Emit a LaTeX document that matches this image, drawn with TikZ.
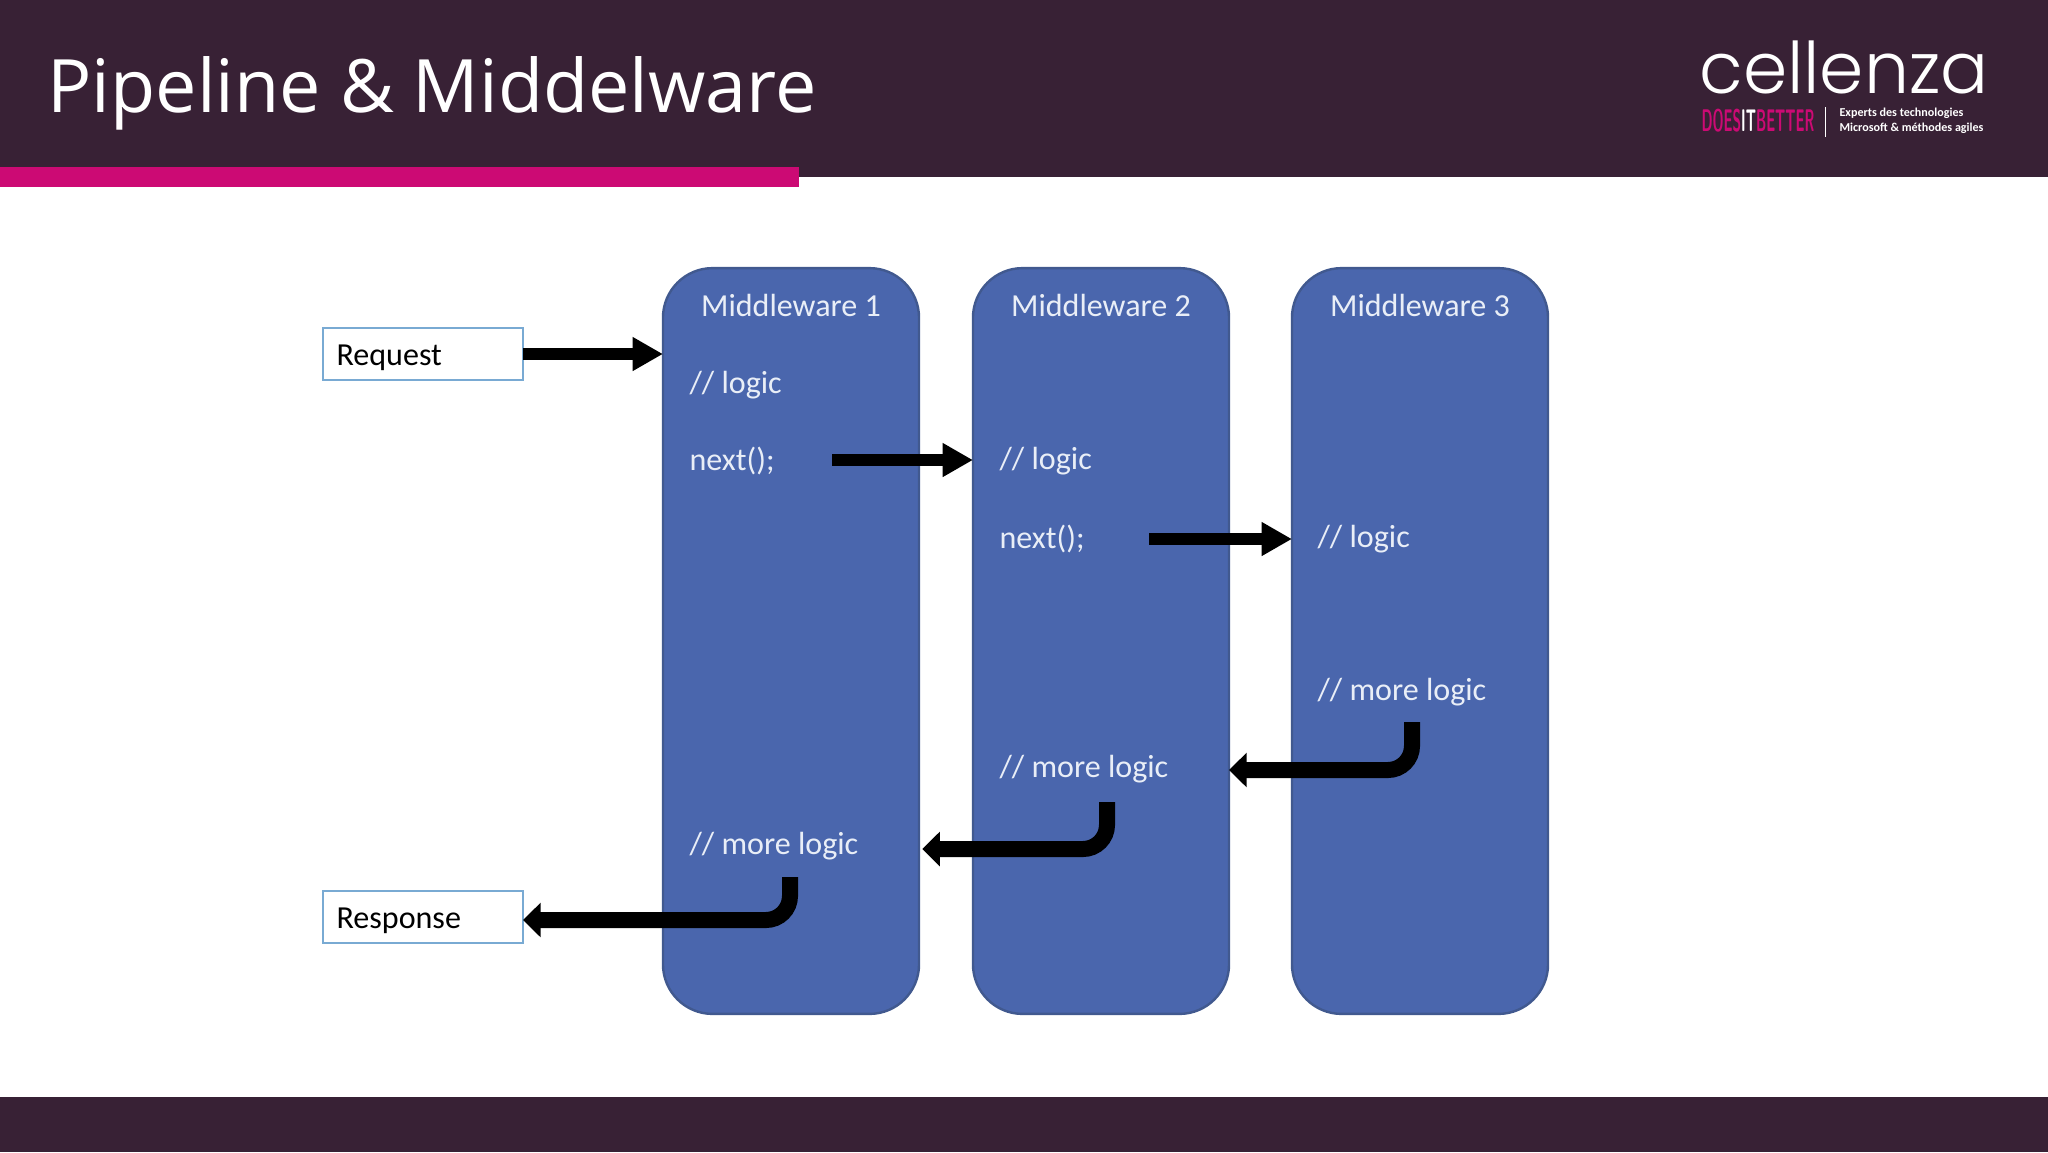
\documentclass[tikz,border=0pt]{standalone}
\usepackage{fontspec}
\usepackage{graphicx}
\setmainfont{Carlito}
\newfontfamily\titlefont{Open Sans}
\newfontfamily\logofont{Poppins Light}
\usetikzlibrary{arrows.meta}
\definecolor{headbg}{HTML}{382135}
\definecolor{pinkbar}{HTML}{CC0A74}
\definecolor{blockblue}{HTML}{4A66AD}
\definecolor{blockedge}{HTML}{41598F}
\definecolor{boxedge}{HTML}{79AAD3}
\definecolor{blocktext}{HTML}{E9EEF7}
\tikzset{
    block/.style={draw=blockedge, line width=0.03cm, fill=blockblue, rounded corners=0.62cm,
        minimum width=3.2cm, minimum height=9.32cm, outer sep=0pt},
    blockhead/.style={text=blocktext, font=\fontsize{11.4}{14}\selectfont},
    code/.style={text=blocktext, font=\fontsize{11.4}{14}\selectfont, anchor=west, inner sep=0pt},
    endbox/.style={draw=boxedge, line width=0.03cm, fill=white, minimum width=2.5cm, minimum height=0.65cm,
        outer sep=0pt},
    boxtext/.style={anchor=west, inner sep=0pt, text=black, font=\fontsize{11.4}{14}\selectfont},
    callarrow/.style={line width=0.14cm, -{Triangle[length=0.38cm,width=0.4cm]}},
    backarrow/.style={line width=0.2cm, rounded corners=0.3cm, -{Triangle[length=0.22cm,width=0.42cm]}}
}
\begin{document}
\begin{tikzpicture}[x=0.0125cm,y=-0.0125cm]
    \useasboundingbox (0,0) rectangle (2048,1152);

    % Header and footer bands
    \fill[headbg] (0,0) rectangle (2048,177);
    \fill[pinkbar] (0,167) rectangle (799,187);
    \fill[headbg] (0,1097) rectangle (2048,1152);
    \node[anchor=west, text=white, inner sep=0pt, font=\titlefont\fontsize{26.2}{30}\selectfont] (title) at (47,93) {Pipeline \& Middelware};

    % Logo
    \node[text=white, inner sep=0pt, font=\logofont\fontsize{25.3}{30}\selectfont] (logo) at (1844,67) {cellenza};
    \node[anchor=west, inner sep=0pt] (tagline) at (1701,121) {\resizebox{1.41cm}{0.28cm}{\sffamily\bfseries\textcolor{pinkbar}{DOES}\textcolor{white}{IT}\textcolor{pinkbar}{BETTER}}};
    \draw[white, line width=0.01cm] (1825,107) -- (1825,137);
    \node[anchor=west, inner sep=0pt, text=white, font=\fontsize{4.3}{5.4}\selectfont\bfseries, align=left] (experts) at (1839,121) {Experts des technologies\\Microsoft \& méthodes agiles};

    % The three middleware blocks
    \node[block] (mw1) at (791,641) {};
    \node[block] (mw2) at (1101,641) {};
    \node[block] (mw3) at (1420,641) {};
    \node[blockhead] (head1) at (791,305) {Middleware 1};
    \node[blockhead] (head2) at (1101,305) {Middleware 2};
    \node[blockhead] (head3) at (1420,305) {Middleware 3};

    % Request and response boxes
    \node[endbox] (request) at (423,354) {};
    \node[boxtext] (requesttext) at (336,358) {Request};
    \node[endbox] (response) at (423,917) {};
    \node[boxtext] (responsetext) at (336,921) {Response};

    % Code lines
    \node[code] (logic1) at (689,385) {// logic};
    \node[code] (next1) at (689,461) {next();};
    \node[code] (more1) at (689,846) {// more logic};
    \node[code] (logic2) at (999,461) {// logic};
    \node[code] (next2) at (999,539) {next();};
    \node[code] (more2) at (999,769) {// more logic};
    \node[code] (logic3) at (1317,539) {// logic};
    \node[code] (more3) at (1317,692) {// more logic};

    % Free ends of the arrows
    \coordinate (out1) at (832,460);
    \coordinate (out2) at (1149,539);
    \coordinate (back3) at (1412,722);
    \coordinate (row3) at (1412,770);
    \coordinate (back2) at (1107,802);
    \coordinate (row2) at (1107,849);
    \coordinate (back1) at (790,877);
    \coordinate (row1) at (790,920);

    % Arrows going in
    \draw[callarrow] (request.east) -- (request.east -| mw1.west);
    \draw[callarrow] (out1) -- (out1 -| mw2.west);
    \draw[callarrow] (out2) -- (out2 -| mw3.west);

    % Arrows coming back
    \draw[backarrow] (back3) |- (row3 -| mw2.east);
    \draw[backarrow, shorten >=0.04cm] (back2) |- (row2 -| mw1.east);
    \draw[backarrow] (back1) |- (row1 -| response.east);
\end{tikzpicture}
\end{document}
